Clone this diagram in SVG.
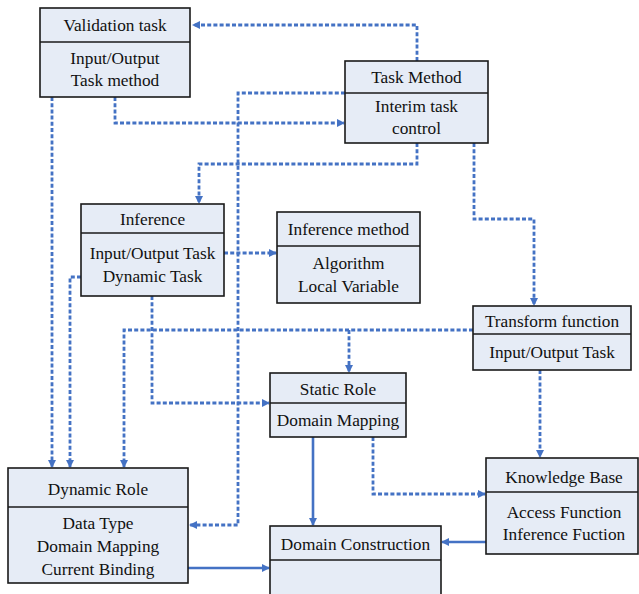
<svg xmlns="http://www.w3.org/2000/svg" width="639" height="594" viewBox="0 0 639 594">
<style>
.box{fill:#E6ECF6;stroke:#1a1a1a;stroke-width:1.6}
.div{stroke:#1a1a1a;stroke-width:1.6}
.d{fill:none;stroke:#4472C4;stroke-width:2.8;stroke-dasharray:4 2.2}
.s{fill:none;stroke:#4472C4;stroke-width:2.6}
</style>
<defs>
<marker id="ah" markerWidth="8" markerHeight="8" refX="7" refY="4" orient="auto" markerUnits="userSpaceOnUse">
<path d="M0,0 L8,4 L0,8 z" fill="#4472C4"/>
</marker>
</defs>
<rect width="639" height="594" fill="#fff"/>
<g id="connectors">
<polyline class="d" points="417,61 417,25 193,25" marker-end="url(#ah)"/>
<polyline class="d" points="115,97 115,123 344,123" marker-end="url(#ah)"/>
<polyline class="d" points="345,93 238,93 238,525 190,525" marker-end="url(#ah)"/>
<polyline class="d" points="417,143 417,164 199,164 199,203" marker-end="url(#ah)"/>
<polyline class="d" points="474,143 474,219 534,219 534,305" marker-end="url(#ah)"/>
<polyline class="d" points="224,253 276,253" marker-end="url(#ah)"/>
<polyline class="d" points="81,277 70,277 70,467" marker-end="url(#ah)"/>
<polyline class="d" points="52,97 52,467" marker-end="url(#ah)"/>
<polyline class="d" points="152,296 152,403 269,403" marker-end="url(#ah)"/>
<polyline class="d" points="473,330 124,330 124,467" marker-end="url(#ah)"/>
<polyline class="d" points="349,330 349,372" marker-end="url(#ah)"/>
<polyline class="d" points="540,370 540,457" marker-end="url(#ah)"/>
<polyline class="d" points="373,437 373,494 485,494" marker-end="url(#ah)"/>
<polyline class="s" points="313,437 313,525" marker-end="url(#ah)"/>
<polyline class="s" points="486,542 442,542" marker-end="url(#ah)"/>
<polyline class="s" points="188,568 269,568" marker-end="url(#ah)"/>
</g>
<g font-family="Liberation Serif, serif" font-size="17.3" fill="#111" text-anchor="middle">
<g id="validation-task">
<rect class="box" x="40" y="8" width="150" height="89"/>
<line class="div" x1="40" y1="42" x2="190" y2="42"/>
<text x="115" y="31">Validation task</text>
<text x="115" y="64">Input/Output</text>
<text x="115" y="86">Task method</text>
</g>
<g id="task-method">
<rect class="box" x="345" y="61" width="143" height="82"/>
<line class="div" x1="345" y1="93" x2="488" y2="93"/>
<text x="416.5" y="83">Task Method</text>
<text x="416.5" y="112">Interim task</text>
<text x="416.5" y="134">control</text>
</g>
<g id="inference">
<rect class="box" x="81" y="204" width="143" height="92"/>
<line class="div" x1="81" y1="233" x2="224" y2="233"/>
<text x="152.5" y="225">Inference</text>
<text x="152.5" y="259">Input/Output Task</text>
<text x="152.5" y="282">Dynamic Task</text>
</g>
<g id="inference-method">
<rect class="box" x="277" y="212" width="143" height="91"/>
<line class="div" x1="277" y1="246" x2="420" y2="246"/>
<text x="348.5" y="235">Inference method</text>
<text x="348.5" y="269">Algorithm</text>
<text x="348.5" y="292">Local Variable</text>
</g>
<g id="transform-function">
<rect class="box" x="473" y="306" width="158" height="64"/>
<line class="div" x1="473" y1="334" x2="631" y2="334"/>
<text x="552" y="327">Transform function</text>
<text x="552" y="358">Input/Output Task</text>
</g>
<g id="static-role">
<rect class="box" x="270" y="373" width="136" height="64"/>
<line class="div" x1="270" y1="403" x2="406" y2="403"/>
<text x="338" y="395">Static Role</text>
<text x="338" y="426">Domain Mapping</text>
</g>
<g id="knowledge-base">
<rect class="box" x="486" y="458" width="152" height="96"/>
<line class="div" x1="486" y1="492" x2="638" y2="492"/>
<text x="564" y="483">Knowledge Base</text>
<text x="564" y="518">Access Function</text>
<text x="564" y="540">Inference Fuction</text>
</g>
<g id="dynamic-role">
<rect class="box" x="8" y="468" width="180" height="115"/>
<line class="div" x1="8" y1="507" x2="188" y2="507"/>
<text x="98" y="495">Dynamic Role</text>
<text x="98" y="529">Data Type</text>
<text x="98" y="552">Domain Mapping</text>
<text x="98" y="575">Current Binding</text>
</g>
<g id="domain-construction">
<rect class="box" x="270" y="526" width="171" height="80"/>
<line class="div" x1="270" y1="560" x2="441" y2="560"/>
<text x="355.5" y="550">Domain Construction</text>
</g>
</g>
</svg>
